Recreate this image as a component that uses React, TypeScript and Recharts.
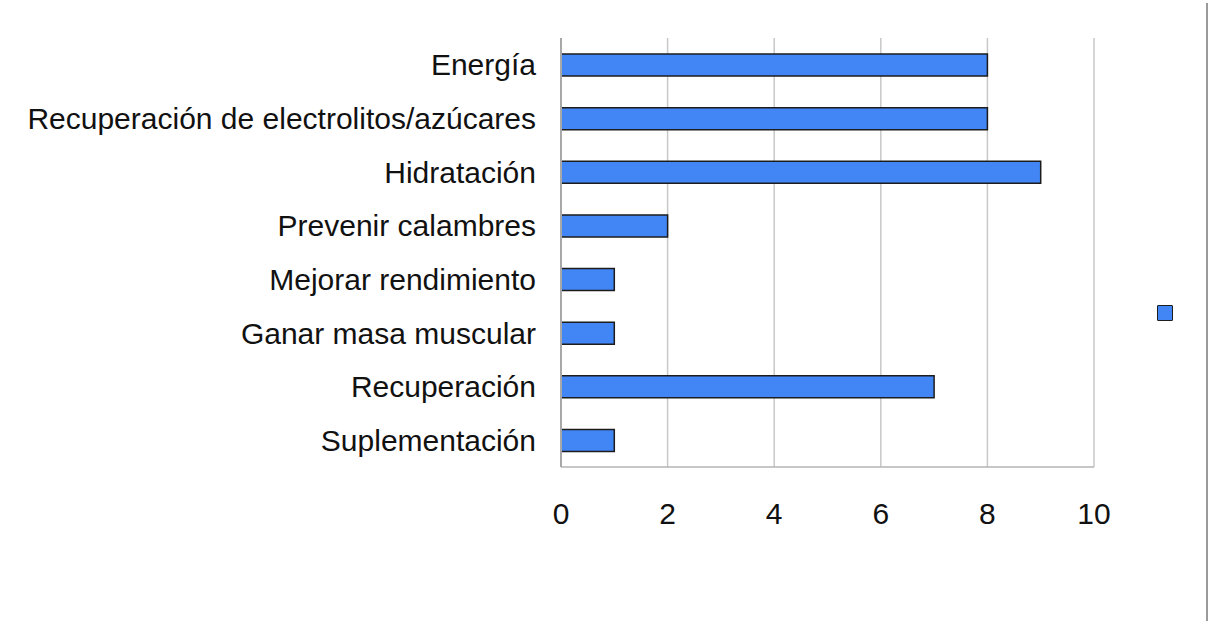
import React from 'react';
import { BarChart, Bar, XAxis, YAxis, CartesianGrid } from 'recharts';

// Reasons, top to bottom
const CATEGORIES = [
  'Energía ',
  'Recuperación de electrolitos/azúcares',
  'Hidratación',
  'Prevenir calambres',
  'Mejorar rendimiento',
  'Ganar masa muscular',
  'Recuperación',
  'Suplementación',
];
const COUNTS = [8, 8, 9, 2, 1, 1, 7, 1];
const X_TICKS = [0, 2, 4, 6, 8, 10];

const BAR_FILL = '#4285f4';
const BAR_STROKE = '#1c1c1c';
const FONT = '"Liberation Sans", Arial, sans-serif';

const data = CATEGORIES.map((name, i) => ({ name, value: COUNTS[i] }));

export default function App() {
  return (
    <div style={{ position: 'fixed', left: 0, top: 0, width: 1210, height: 621, background: '#fff' }}>
      <BarChart
        width={1210}
        height={621}
        data={data}
        layout="vertical"
        margin={{ top: 38, right: 116, bottom: 94, left: 0 }}
        style={{ fontFamily: FONT }}
      >
        <CartesianGrid horizontal={false} stroke="#c8c8c8" strokeWidth={1.5} />
        <XAxis
          type="number"
          domain={[0, 10]}
          ticks={X_TICKS}
          interval={0}
          height={60}
          tickLine={false}
          tickSize={0}
          tickMargin={36}
          axisLine={{ stroke: '#b4b4b4', strokeWidth: 1.5 }}
          tick={{ fill: '#111', fontSize: 30, fontFamily: FONT }}
        />
        <YAxis
          type="category"
          dataKey="name"
          width={561}
          interval={0}
          tickLine={false}
          tickSize={0}
          tickMargin={25}
          axisLine={{ stroke: '#a8a8a8', strokeWidth: 2 }}
          tick={{ fill: '#111', fontSize: 30, fontFamily: FONT }}
        />
        <Bar
          dataKey="value"
          fill={BAR_FILL}
          stroke={BAR_STROKE}
          strokeWidth={1.5}
          barSize={22}
          isAnimationActive={false}
        />
      </BarChart>
      {/* legend swatch (series has no name) */}
      <div
        style={{
          position: 'absolute',
          left: 1157,
          top: 305,
          width: 14,
          height: 14,
          background: BAR_FILL,
          border: `1.5px solid ${BAR_STROKE}`,
          borderRadius: 1,
        }}
      />
      <div style={{ position: 'absolute', left: 1206, top: 3, width: 2, height: 618, background: '#9a9a9a' }} />
    </div>
  );
}
